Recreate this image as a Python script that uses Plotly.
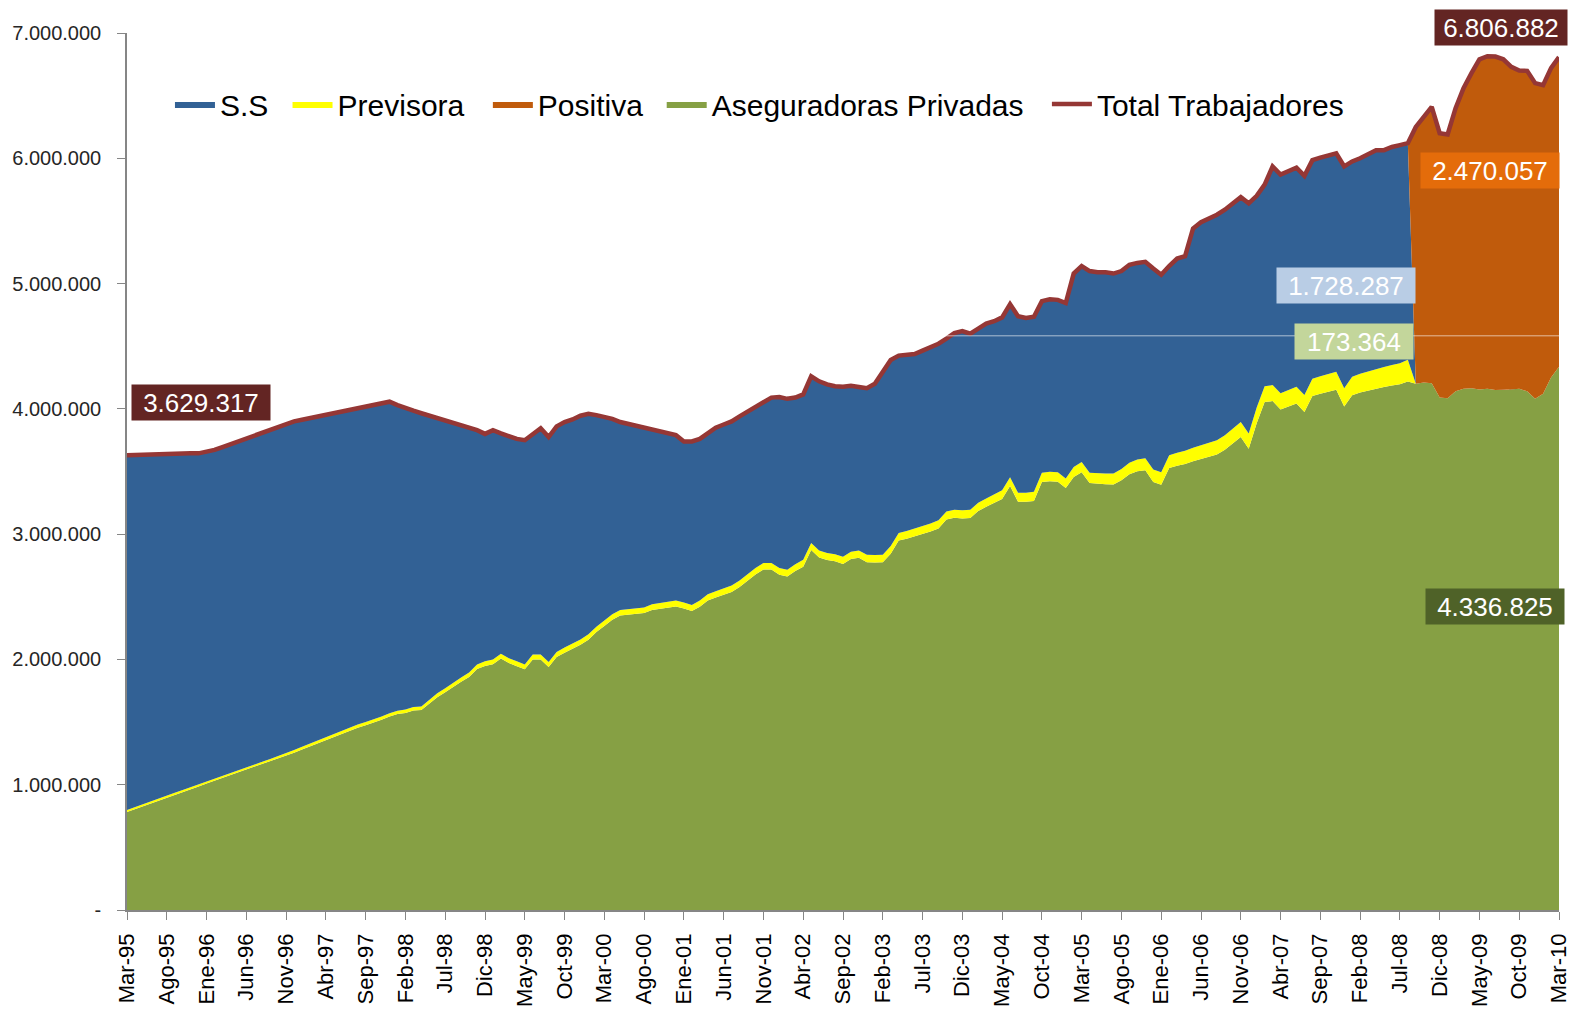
"""Afiliados a riesgos profesionales por administradora, Mar-95 a Mar-10."""

import plotly.graph_objects as go

# Etiquetas mensuales (Mar-95 ... Mar-10)
MESES = ["Ene", "Feb", "Mar", "Abr", "May", "Jun", "Jul", "Ago", "Sep", "Oct", "Nov", "Dic"]
meses = [f"{MESES[(2 + k) % 12]}-{(95 + (2 + k) // 12) % 100:02d}" for k in range(181)]

# Total trabajadores (miles), leido mes a mes
total_trabajadores = [
    3629.317, 3632, 3636, 3640, 3642, 3643, 3644, 3644, 3645, 3645, 3655, 3672,
    3695, 3718, 3741, 3763, 3786, 3808, 3831, 3854, 3877, 3900, 3913, 3926,
    3939, 3952, 3965, 3978, 3991, 4004, 4017, 4030, 4043, 4057, 4030, 4005,
    3985, 3965, 3945, 3925, 3905, 3885, 3865, 3845, 3830, 3800, 3830, 3805,
    3785, 3760, 3750, 3800, 3845, 3775, 3860, 3895, 3915, 3945, 3960, 3950,
    3935, 3920, 3895, 3880, 3865, 3850, 3835, 3820, 3805, 3790, 3740, 3740,
    3760, 3810, 3850, 3875, 3900, 3940, 3980, 4020, 4060, 4090, 4095, 4080,
    4090, 4115, 4260, 4220, 4195, 4180, 4176, 4185, 4175, 4165, 4200, 4300,
    4390, 4425, 4432, 4437, 4465, 4490, 4520, 4560, 4605, 4620, 4600, 4640,
    4680, 4700, 4730, 4836, 4740, 4725, 4735, 4860, 4874, 4870, 4845, 5080,
    5140, 5100, 5090, 5090, 5080, 5100, 5150, 5165, 5174, 5120, 5070, 5140,
    5200, 5219, 5440, 5490, 5520, 5550, 5590, 5640, 5690, 5640, 5700, 5790,
    5935, 5870, 5900, 5925, 5860, 5985, 6005, 6025, 6040, 5935, 5975, 6000,
    6035, 6065, 6065, 6090, 6105, 6121, 6250, 6330, 6410, 6200, 6190, 6400,
    6560, 6680, 6790, 6815, 6812, 6790, 6730, 6700, 6698, 6600, 6584, 6720,
    6806.882,
]

# Aseguradoras privadas (miles)
aseguradoras_privadas = [
    783, 805, 827, 850, 873, 895, 918, 941, 963, 986, 1009, 1031,
    1054, 1076, 1097, 1119, 1141, 1162, 1184, 1207, 1230, 1256, 1282, 1307,
    1333, 1359, 1384, 1410, 1436, 1455, 1475, 1495, 1519, 1544, 1564, 1573,
    1592, 1596, 1650, 1699, 1738, 1782, 1821, 1860, 1924, 1948, 1962, 2007,
    1972, 1946, 1921, 2000, 2000, 1940, 2019, 2054, 2084, 2118, 2158, 2218,
    2267, 2317, 2351, 2356, 2360, 2370, 2394, 2404, 2418, 2423, 2407, 2387,
    2421, 2471, 2495, 2515, 2539, 2579, 2628, 2678, 2717, 2717, 2676, 2661,
    2705, 2740, 2874, 2814, 2793, 2783, 2762, 2802, 2811, 2776, 2773, 2775,
    2844, 2949, 2963, 2983, 2997, 3022, 3046, 3116, 3130, 3125, 3129, 3184,
    3218, 3252, 3281, 3385, 3259, 3258, 3265, 3416, 3423, 3419, 3368, 3457,
    3495, 3408, 3401, 3399, 3397, 3430, 3478, 3501, 3509, 3417, 3395, 3528,
    3546, 3559, 3582, 3600, 3618, 3636, 3674, 3722, 3775, 3682, 3886, 4054,
    4062, 3995, 4018, 4042, 3974, 4102, 4120, 4138, 4152, 4018, 4108, 4130,
    4147, 4164, 4175, 4186, 4197, 4219.349, 4200, 4210, 4205, 4090, 4085, 4140,
    4160, 4165, 4155, 4160, 4150, 4150, 4155, 4160, 4140, 4080, 4120, 4250,
    4336.825,
]

# Previsora (miles), hasta Ago-08
previsora = [
    15, 15, 16, 16, 16, 17, 17, 17, 18, 18, 18, 19,
    19, 19, 20, 20, 20, 21, 21, 21, 22, 22, 22, 23,
    23, 23, 24, 24, 24, 25, 25, 25, 26, 26, 26, 27,
    28, 29, 30, 31, 32, 33, 34, 35, 36, 37, 38, 38,
    38, 39, 39, 40, 40, 40, 41, 41, 41, 42, 42, 42,
    43, 43, 44, 44, 45, 45, 46, 46, 47, 47, 48, 48,
    49, 49, 50, 50, 51, 51, 52, 52, 53, 53, 54, 54,
    55, 55, 56, 56, 57, 57, 58, 58, 59, 59, 60, 60,
    61, 61, 62, 62, 63, 63, 64, 64, 65, 65, 66, 66,
    67, 68, 69, 70, 71, 72, 73, 74, 75, 76, 77, 78,
    80, 82, 84, 86, 88, 90, 92, 94, 96, 98, 100, 102,
    104, 106, 108, 110, 112, 114, 116, 118, 120, 122, 124, 126,
    128, 130, 132, 134, 136, 138, 140, 142, 144, 146, 148, 150,
    153, 156, 160, 164, 168, 173.364,
]

ultimo_mes_ss = "Ago-08"  # desde Sep-08 el ISS pasa a Positiva
corte = meses.index(ultimo_mes_ss) + 1

prev_full = previsora + [0] * (len(meses) - len(previsora))
ss = [
    (t - p - v) if i < corte else 0
    for i, (t, p, v) in enumerate(zip(total_trabajadores, aseguradoras_privadas, prev_full))
]
positiva = [
    (t - p) if i >= corte else 0
    for i, (t, p) in enumerate(zip(total_trabajadores, aseguradoras_privadas))
]

to_units = lambda vals: [v * 1000 for v in vals]

FONT = "Liberation Sans, Arial"

fig = go.Figure()
series = [
    ("Aseguradoras Privadas", aseguradoras_privadas, "#86a044", "legend4"),
    ("Previsora", prev_full, "#ffff00", "legend2"),
    ("S.S", ss, "#326195", "legend"),
    ("Positiva", positiva, "#c05b0c", "legend3"),
]
for name, vals, color, leg in series:
    fig.add_trace(go.Scatter(
        x=meses,
        y=to_units(vals),
        name=name,
        stackgroup="uno",
        mode="lines",
        line=dict(width=0, color=color),
        fillcolor=color,
        legend=leg,
    ))
fig.add_trace(go.Scatter(
    x=meses,
    y=to_units(total_trabajadores),
    name="Total Trabajadores",
    mode="lines",
    line=dict(color="#953735", width=4.5),
    legend="legend5",
))

# Etiquetas de valores
etiquetas = [
    ("3.629.317", 0.0514, 0.579, "#632523", 136),
    ("6.806.882", 0.9597, 1.0063, "#632523", 130),
    ("2.470.057", 0.952, 0.8427, "#e46c0a", 136),
    ("1.728.287", 0.851, 0.712, "#b9cde5", 136),
    ("173.364", 0.8566, 0.6477, "#c3d69b", 116),
    ("4.336.825", 0.9552, 0.3466, "#4f6228", 136),
]
for texto, xp, yp, bg, w in etiquetas:
    fig.add_annotation(
        x=xp, y=yp, xref="paper", yref="paper",
        text=texto, showarrow=False,
        xanchor="center", yanchor="middle",
        font=dict(family=FONT, size=26, color="white"),
        bgcolor=bg, width=w, height=33,
    )

# linea clara horizontal que cruza el area
fig.add_shape(
    type="line", xref="paper", yref="y",
    x0=0, x1=1, y0=4583000, y1=4583000,
    line=dict(color="rgba(255,255,255,0.6)", width=1),
    layer="above",
)

ytick_vals = list(range(0, 7000001, 1000000))
ytick_text = ["-"] + [f"{v:,}".replace(",", ".") for v in ytick_vals[1:]]


def _legend(x):
    return dict(
        orientation="h",
        x=x, y=0.919,
        xanchor="left", yanchor="middle",
        font=dict(family=FONT, size=30, color="black"),
        bgcolor="rgba(0,0,0,0)",
        itemwidth=40,
    )


fig.update_layout(
    width=1564,
    height=1002,
    paper_bgcolor="white",
    plot_bgcolor="white",
    font=dict(family=FONT, color="black"),
    margin=dict(l=119, r=13, t=25, b=100, autoexpand=False),
    showlegend=True,
    legend=_legend(0.030),
    legend2=_legend(0.1121),
    legend3=_legend(0.252),
    legend4=_legend(0.3734),
    legend5=_legend(0.6424),
    xaxis=dict(
        type="category",
        range=[0, len(meses) - 1],
        tickmode="array",
        tickvals=meses[::5],
        ticktext=meses[::5],
        tickangle=-90,
        ticks="outside",
        ticklen=8,
        tickcolor="#868686",
        ticklabelstandoff=5,
        automargin=False,
        showline=True,
        linecolor="#868686",
        linewidth=1.5,
        showgrid=False,
        zeroline=False,
        tickfont=dict(size=22, color="black"),
    ),
    yaxis=dict(
        range=[0, 7000000],
        tickmode="array",
        tickvals=ytick_vals,
        ticktext=ytick_text,
        ticks="outside",
        ticklen=8,
        tickcolor="#868686",
        ticklabelstandoff=12,
        automargin=False,
        showline=True,
        linecolor="#868686",
        linewidth=1.5,
        showgrid=False,
        zeroline=False,
        tickfont=dict(size=20, color="#262626"),
    ),
)

fig.write_html("out.html")
